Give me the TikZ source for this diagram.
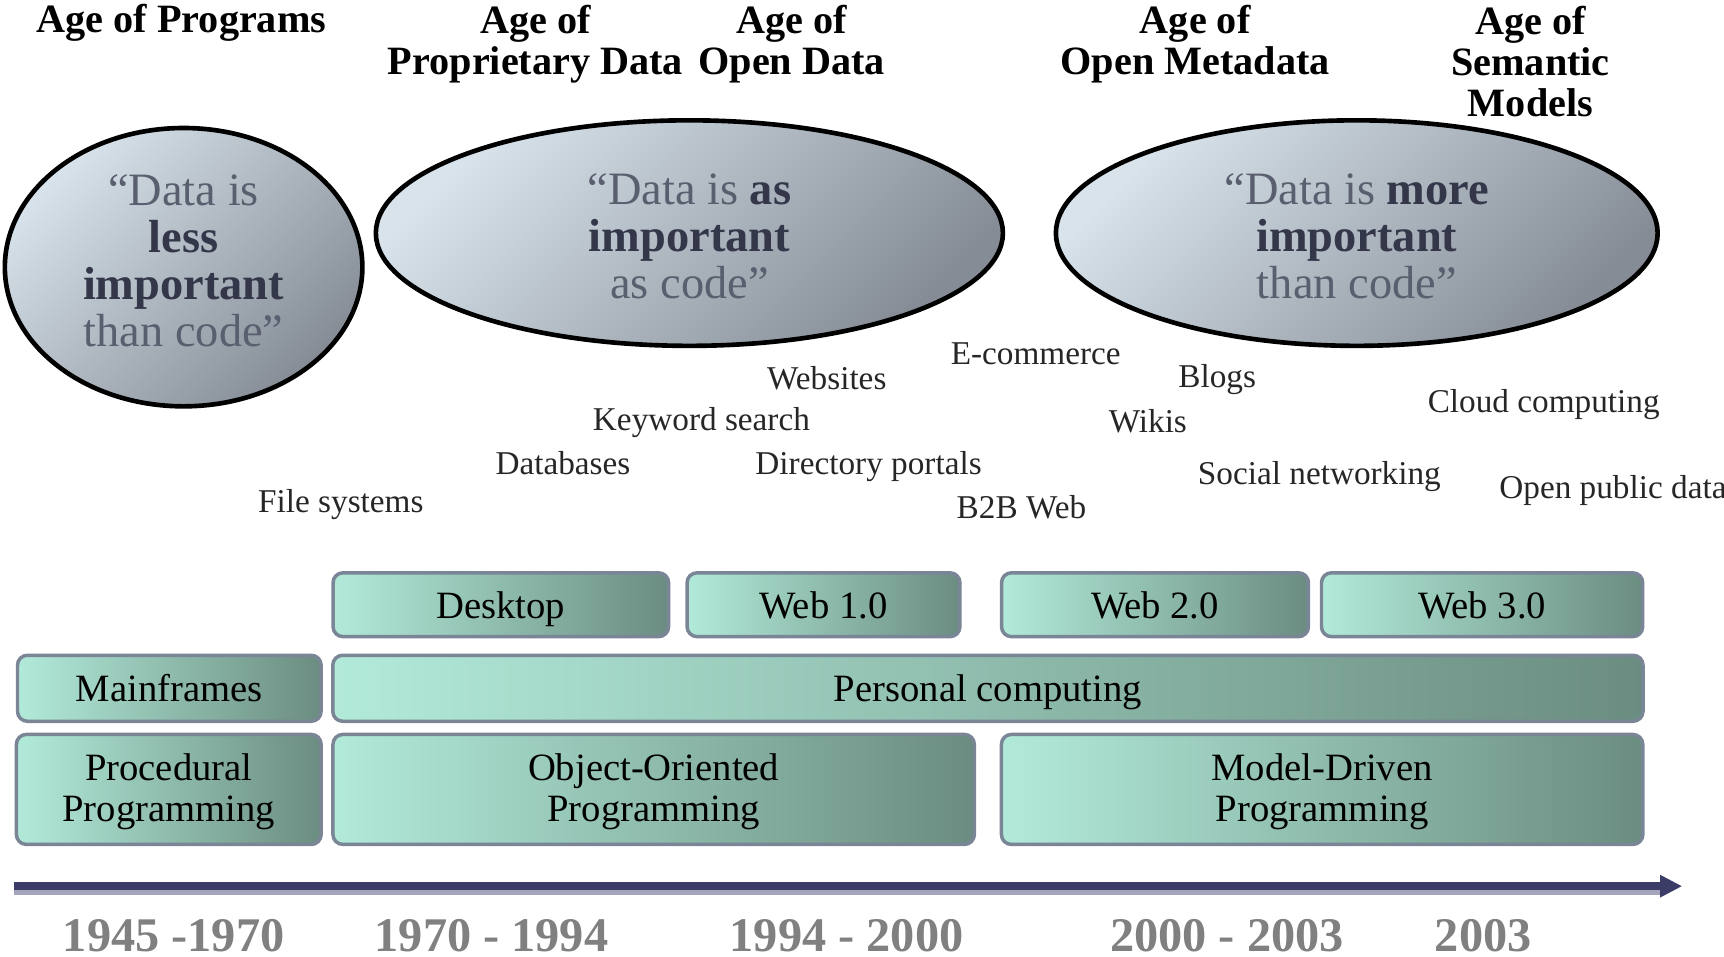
\documentclass[tikz,border=0pt]{standalone}
\usepackage{fontspec}
\setmainfont{Liberation Serif}
\usepackage{xcolor}
\usetikzlibrary{arrows.meta, shapes.geometric}
\definecolor{mintl}{HTML}{B2EAD9}
\definecolor{tealr}{HTML}{6B8D81}
\definecolor{boxline}{HTML}{7A8696}
\definecolor{bubl}{HTML}{D8E3EB}
\definecolor{bubr}{HTML}{858C96}
\definecolor{quotetxt}{HTML}{5A5F6F}
\definecolor{quotebf}{HTML}{34374A}
\definecolor{navy}{HTML}{3C3C68}
\definecolor{lilac}{HTML}{A4A4BC}
\definecolor{yeargray}{HTML}{808080}

\begin{document}
\begin{tikzpicture}[x=0.01cm,y=-0.01cm,
  era/.style={font=\fontsize{10.4}{10.5}\selectfont\bfseries, align=center, inner sep=0},
  tag/.style={font=\fontsize{8.6}{10}\selectfont, text=black!85, inner sep=0},
  bubble/.style={ellipse, draw=black, line width=1.2pt, top color=bubl, bottom color=bubr,
    shading angle=45, inner sep=0},
  quote/.style={text=quotetxt, align=center, font=\fontsize{12}{12.2}\selectfont, inner sep=0},
  box/.style={rounded corners=0.09cm, draw=boxline, line width=0.9pt, left color=mintl,
    right color=tealr, align=center, font=\fontsize{10}{10.8}\selectfont, inner sep=0,
    text height=0.8em, text depth=0.1em},
  tallbox/.style={box, text height=, text depth=0.1em},
  year/.style={font=\fontsize{12.5}{13}\selectfont\bfseries, text=yeargray, inner sep=0}]

\useasboundingbox (0,0) rectangle (1568,870);

% Ages
\node[era] (progs) at (165,21) {Age of Programs};
\node[era] (propdata) at (487,40) {Age of\\Proprietary Data};
\node[era] (opendata) at (720,40) {Age of\\Open Data};
\node[era] (openmeta) at (1087,40) {Age of\\Open Metadata};
\node[era] (semantic) at (1392,56) {Age of\\Semantic\\Models};

% Bubbles
\node[bubble, minimum width=3.25cm, minimum height=2.53cm] (less) at (167,243) {};
\node[bubble, minimum width=5.70cm, minimum height=2.05cm] (asimp) at (627,212) {};
\node[bubble, minimum width=5.47cm, minimum height=2.05cm] (more) at (1234,212) {};
\node[quote] (lesstxt) at (167,237)
  {“Data is\\{\bfseries\color{quotebf}less}\\{\bfseries\color{quotebf}important}\\than code”};
\node[quote] (asimptxt) at (627,215)
  {“Data is {\bfseries\color{quotebf}as}\\{\bfseries\color{quotebf}important}\\as code”};
\node[quote] (moretxt) at (1234,215)
  {“Data is {\bfseries\color{quotebf}more}\\{\bfseries\color{quotebf}important}\\than code”};

% Technologies
\node[tag] (websites) at (752,344) {Websites};
\node[tag] (ecomm) at (942,322) {E-commerce};
\node[tag] (blogs) at (1107,345) {Blogs};
\node[tag] (keyword) at (638,384) {Keyword search};
\node[tag] (wikis) at (1044,383) {Wikis};
\node[tag] (cloud) at (1404,368) {Cloud computing};
\node[tag] (dbs) at (512,421) {Databases};
\node[tag] (portals) at (790,424) {Directory portals};
\node[tag] (social) at (1200,433) {Social networking};
\node[tag] (public) at (1467,446) {Open public data};
\node[tag] (files) at (310,459) {File systems};
\node[tag] (btob) at (929,461) {B2B Web};

% Platforms
\node[box, minimum width=3.05cm, minimum height=0.58cm] (desktop) at (455.5,550) {Desktop};
\node[box, minimum width=2.48cm, minimum height=0.58cm] (webone) at (749,550) {Web 1.0};
\node[box, minimum width=2.79cm, minimum height=0.58cm] (webtwo) at (1050.5,550) {Web 2.0};
\node[box, minimum width=2.92cm, minimum height=0.58cm] (webthree) at (1348,550) {Web 3.0};
\node[box, minimum width=2.76cm, minimum height=0.60cm] (mainframes) at (154,626) {Mainframes};
\node[box, minimum width=11.91cm, minimum height=0.60cm] (personal) at (898.5,626) {Personal computing};

% Paradigms
\node[tallbox, minimum width=2.77cm, minimum height=1.00cm] (procedural) at (153.5,718) {Procedural\\Programming};
\node[tallbox, minimum width=5.83cm, minimum height=1.00cm] (objor) at (594.5,718) {Object-Oriented\\Programming};
\node[tallbox, minimum width=5.83cm, minimum height=1.00cm] (modeldr) at (1202.5,718) {Model-Driven\\Programming};

% Time line
\coordinate (tstart) at (13,806);
\coordinate (tend) at (1530,806);
\draw[lilac, line width=1.6pt] ([yshift=-1.6pt]tstart) -- ([yshift=-1.6pt,xshift=-0.2cm]tend);
\draw[navy, line width=2pt, -{Triangle[length=0.2cm, width=0.19cm]}] (tstart) -- (tend);

% Years
\node[year] (ya) at (158,851) {1945 -1970};
\node[year] (yb) at (447,851) {1970 - 1994};
\node[year] (yc) at (770,851) {1994 - 2000};
\node[year] (yd) at (1116,851) {2000 - 2003};
\node[year] (ye) at (1349,851) {2003};

\end{tikzpicture}
\end{document}
